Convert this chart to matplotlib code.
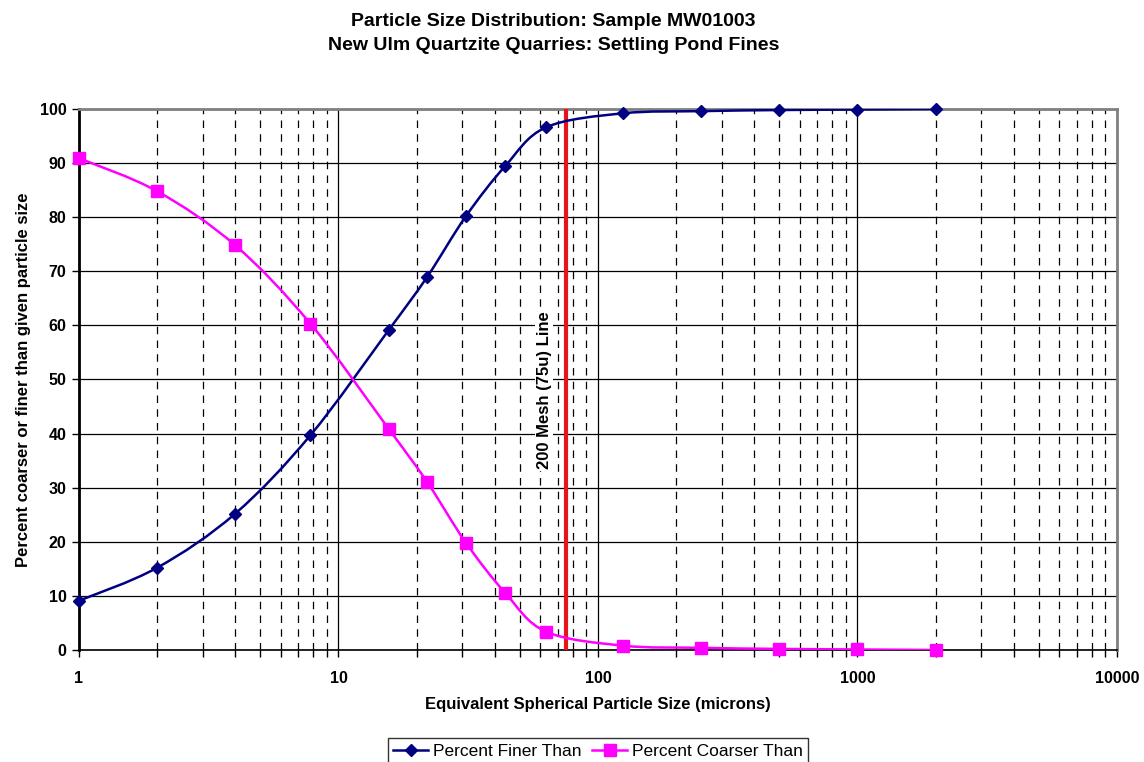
import numpy as np
import matplotlib.pyplot as plt
from matplotlib.path import Path
from matplotlib.patches import PathPatch
from matplotlib.lines import Line2D
from matplotlib.ticker import LogLocator, NullFormatter, FixedLocator

plt.rcParams["font.family"] = ["Liberation Sans", "DejaVu Sans"]

# particle sizes (microns) and cumulative percentages
sizes = [1, 2, 4, 7.8, 15.6, 22, 31, 44, 63, 125, 250, 500, 1000, 2000]
pct_finer = [9.1, 15.2, 25.2, 39.7, 59.1, 69.0, 80.2, 89.5, 96.6, 99.2, 99.6, 99.8, 99.9, 100.0]
pct_coarser = [90.9, 84.8, 74.8, 60.3, 40.9, 31.0, 19.8, 10.5, 3.4, 0.8, 0.4, 0.2, 0.1, 0.0]
mesh_200 = 75
x_ticks = [1, 10, 100, 1000, 10000]


def smooth_path(xs, ys):
    # Bezier segments through the points, worked out in log-x space
    lx = np.log10(xs)
    ys = np.asarray(ys, float)
    n = len(lx)
    verts = [(xs[0], ys[0])]
    codes = [Path.MOVETO]
    for i in range(n - 1):
        p0 = max(i - 1, 0)
        p3 = min(i + 2, n - 1)
        c1x = lx[i] + (lx[i + 1] - lx[p0]) / 6
        c1y = ys[i] + (ys[i + 1] - ys[p0]) / 6
        c2x = lx[i + 1] - (lx[p3] - lx[i]) / 6
        c2y = ys[i + 1] - (ys[p3] - ys[i]) / 6
        verts += [(10 ** c1x, c1y), (10 ** c2x, c2y), (xs[i + 1], ys[i + 1])]
        codes += [Path.CURVE4] * 3
    return Path(verts, codes)


fig = plt.figure(figsize=(11.44, 7.62), dpi=100)
ax = fig.add_axes([0.069, 0.147, 0.9074, 0.71])

ax.set_xscale("log")
ax.set_xlim(1, 10000)
ax.set_ylim(0, 100)

navy = "#000080"
magenta = "#FF00FF"

ax.add_patch(PathPatch(smooth_path(sizes, pct_finer), fill=False, edgecolor=navy, lw=1.8, zorder=4))
ax.add_patch(PathPatch(smooth_path(sizes, pct_coarser), fill=False, edgecolor=magenta, lw=1.8, zorder=4))
ax.plot(sizes, pct_finer, linestyle="none", marker="D", ms=6.5, color=navy, zorder=5, clip_on=False)
ax.plot(sizes, pct_coarser, linestyle="none", marker="s", ms=8, color=magenta, zorder=5, clip_on=False)

ax.axvline(mesh_200, color="#E8141B", lw=3, zorder=3)
ax.text(mesh_200 / 1.21, 48, "200 Mesh (75u) Line", rotation=90, ha="center", va="center",
        fontsize=12, fontweight="bold", zorder=6,
        bbox=dict(facecolor="white", edgecolor="none", pad=1))

# grid: solid decades and tens, dashed minor decades
ax.xaxis.set_major_locator(FixedLocator(x_ticks))
ax.xaxis.set_minor_locator(LogLocator(base=10, subs=np.arange(2, 10)))
ax.xaxis.set_minor_formatter(NullFormatter())
ax.set_xticklabels([str(t) for t in x_ticks])
ax.set_yticks(range(0, 101, 10))
ax.grid(which="major", color="black", lw=0.9, ls="-", zorder=1)
ax.grid(which="minor", axis="x", color="black", lw=0.9, ls=(0, (6, 5)), zorder=1)

ax.tick_params(which="both", direction="out", length=5, width=1, color="black")
ax.tick_params(axis="x", which="both", labelsize=11.5, pad=10)
ax.tick_params(axis="y", labelsize=11.5, pad=4)
for lbl in ax.get_xticklabels() + ax.get_yticklabels():
    lbl.set_fontweight("bold")

ax.spines["left"].set_linewidth(2)
ax.spines["bottom"].set_linewidth(1.2)
for side in ("top", "right"):
    ax.spines[side].set_color("#808080")
    ax.spines[side].set_linewidth(2)

ax.set_xlabel("Equivalent Spherical Particle Size (microns)", fontsize=12, fontweight="bold", labelpad=8)
ax.set_ylabel("Percent coarser or finer than given particle size", fontsize=12, fontweight="bold", labelpad=6)

fig.text(0.484, 0.956, "Particle Size Distribution: Sample MW01003\nNew Ulm Quartzite Quarries: Settling Pond Fines",
         ha="center", va="center", fontsize=14, fontweight="bold", linespacing=1.5)

handles = [
    Line2D([], [], color=navy, lw=1.8, marker="D", ms=6.5),
    Line2D([], [], color=magenta, lw=1.8, marker="s", ms=8),
]
leg = fig.legend(handles, ["Percent Finer Than", "Percent Coarser Than"], loc="lower center",
                 bbox_to_anchor=(0.523, -0.014), ncol=2, fontsize=12.5, frameon=True, fancybox=False,
                 edgecolor="black", handlelength=2.0, handletextpad=0.3, columnspacing=0.6,
                 borderpad=0.3)
leg.get_frame().set_linewidth(1)

fig.savefig("out.png", dpi=100)
